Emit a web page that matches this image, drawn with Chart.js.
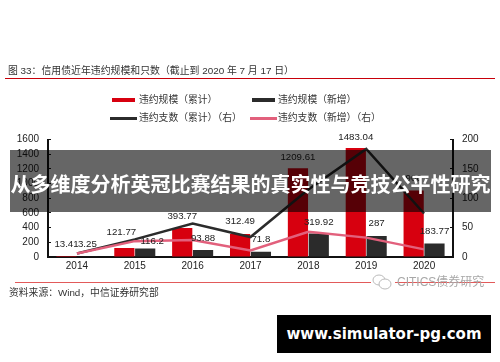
<!DOCTYPE html>
<html>
<head>
<meta charset="utf-8">
<script src="https://cdn.jsdelivr.net/npm/chart.js@4"></script>
<style>
    html, body { margin: 0; padding: 0; background: #fff; }
    #page { position: relative; width: 500px; height: 362px; overflow: hidden; font-family: "Liberation Sans", "Noto Sans CJK SC", sans-serif; color: #333; }
    #page canvas { position: absolute; left: 0; top: 0; }
    .abs { position: absolute; white-space: nowrap; }
    .rule { position: absolute; height: 1px; }
    .legend-text { font-size: 9.8px; line-height: 12px; }
    .swatch { position: absolute; }
</style>
</head>
<body>
<div id="page">
    <canvas id="chart" width="500" height="362"></canvas>
    <div class="abs" id="title" style="left:8px;top:64px;font-size:9.9px;line-height:13px">图 33：信用债近年违约规模和只数（截止到 2020 年 7 月 17 日）</div>
    <div class="rule" style="left:5px;width:490px;top:78px;background:#c8000a"></div>
    <div id="legend"></div>
    <div class="rule" style="left:15px;width:480px;top:282px;background:#e25a5a"></div>
    <div class="abs" style="left:9px;top:286px;font-size:9.8px;line-height:13px">资料来源：Wind，中信证券研究部</div>
    <svg class="abs" style="left:371px;top:274px" width="24" height="16">
        <rect x="0" y="0" width="24" height="16" fill="#fff"/>
        <ellipse cx="8" cy="6" rx="6" ry="5" fill="none" stroke="#bbb" stroke-width="1"/>
        <ellipse cx="14" cy="10" rx="6" ry="5" fill="#fff" stroke="#bbb" stroke-width="1"/>
    </svg>
    <div class="abs" style="left:397px;top:275px;font-size:12px;line-height:14px;color:#a8a8a8">CITICS债券研究</div>
    <div class="abs" style="left:10px;top:150px;width:481px;height:62px;background:rgba(0,0,0,0.6)"></div>
    <div class="abs" style="left:10px;top:150px;width:481px;height:68px;line-height:68px;text-align:center;font-family:'Noto Sans CJK SC',sans-serif;font-size:20px;font-weight:bold;color:#fff">从多维度分析英冠比赛结果的真实性与竞技公平性研究</div>
    <div class="abs" style="left:277px;top:315px;width:214px;height:38px;line-height:38px;background:#000;color:#fff;text-align:center;font-family:'DejaVu Sans',sans-serif;font-size:15px;font-weight:bold">www.simulator-pg.com</div>
</div>
<script>
// Données
const years = ['2014', '2015', '2016', '2017', '2018', '2019', '2020'];
const leftTicks = [0, 200, 400, 600, 800, 1000, 1200, 1400, 1600];
const rightTicks = [0, 50, 100, 150, 200];

const scaleTotal = [13.41, 121.77, 393.77, 312.49, 1209.61, 1483.04, 906];
const scaleNew = [3.25, 116.2, 93.88, 71.8, 319.92, 287, 183.77];
const countTotal = [6, 30, 57, 34, 115, 184, 74];
const countNew = [6, 27, 29, 11, 43, 33, 13];

const seriesNames = ['违约规模（累计）', '违约规模（新增）', '违约支数（累计）（右）', '违约支数（新增）（右）'];
const seriesColors = ['#d7000f', '#2b2b2b', '#2b2b2b', '#e2607c'];

// Légende en HTML, deux rangées comme sur l'original
const legendSlots = [
    { x: 112, w: 23, h: 4, y: 100 },
    { x: 252, w: 23, h: 4, y: 100 },
    { x: 110, w: 27, h: 3, y: 118 },
    { x: 250, w: 27, h: 3, y: 118 }
];
const legendBox = document.getElementById('legend');
seriesNames.forEach((name, i) => {
    const slot = legendSlots[i];
    const swatch = document.createElement('div');
    swatch.className = 'swatch';
    swatch.style.cssText = `left:${slot.x}px;top:${slot.y - slot.h / 2}px;width:${slot.w}px;height:${slot.h}px;background:${seriesColors[i]}`;
    legendBox.appendChild(swatch);
    const text = document.createElement('div');
    text.className = 'abs legend-text';
    text.style.cssText = `left:${i % 2 ? 278 : 139}px;top:${slot.y - 6}px`;
    text.textContent = name;
    legendBox.appendChild(text);
});

// Etiquettes de valeurs au-dessus des barres, avec le décalage de l'original
const labelLift = [
    [12, 16, 12, 13, 11, 11, 12],
    [12, 7, 12, 12, 11, 13, 12]
];
const labelShift = [
    [0, -3, 0, 0, 0, 0, 0],
    [0, 7, 0, 0, 0, 0, 0]
];
const barLabels = {
    id: 'barLabels',
    afterDatasetsDraw(chart) {
        const ctx = chart.ctx;
        ctx.save();
        ctx.font = '9.7px "Liberation Sans"';
        ctx.fillStyle = '#222';
        ctx.textAlign = 'center';
        ctx.textBaseline = 'middle';
        [0, 1].forEach(index => {
            chart.getDatasetMeta(index).data.forEach((bar, i) => {
                const text = String(chart.data.datasets[index].data[i]);
                ctx.fillText(text, bar.x + labelShift[index][i], bar.y - labelLift[index][i]);
            });
        });
        ctx.restore();
    }
};

const fixedWidth = width => scale => { scale.width = width; };
const axisFont = { family: '"Liberation Sans"', size: 10 };
const plainTick = value => String(value);

new Chart(document.getElementById('chart'), {
    type: 'bar',
    data: {
        labels: years,
        datasets: [
            { label: seriesNames[0], data: scaleTotal, backgroundColor: seriesColors[0], yAxisID: 'y', categoryPercentage: 0.72, barPercentage: 0.97, order: 2 },
            { label: seriesNames[1], data: scaleNew, backgroundColor: seriesColors[1], yAxisID: 'y', categoryPercentage: 0.72, barPercentage: 0.97, order: 2 },
            { type: 'line', label: seriesNames[2], data: countTotal, borderColor: seriesColors[2], borderWidth: 2.5, pointRadius: 0, tension: 0, yAxisID: 'y1', order: 1 },
            { type: 'line', label: seriesNames[3], data: countNew, borderColor: seriesColors[3], borderWidth: 2.5, pointRadius: 0, tension: 0, yAxisID: 'y1', order: 0 }
        ]
    },
    options: {
        responsive: false,
        animation: false,
        layout: { padding: { top: 139.5, bottom: 87 } },
        plugins: { legend: { display: false }, tooltip: { enabled: false } },
        scales: {
            x: {
                grid: { display: false, drawTicks: false },
                border: { color: '#111', width: 2 },
                ticks: { font: axisFont, color: '#222', padding: 3, maxRotation: 0 }
            },
            y: {
                position: 'left',
                min: 0,
                max: 1600,
                afterFit: fixedWidth(48),
                afterBuildTicks: scale => { scale.ticks = leftTicks.map(value => ({ value })); },
                grid: { drawOnChartArea: false, tickLength: -3, tickColor: '#111', tickWidth: 1 },
                border: { color: '#111', width: 2 },
                ticks: { font: axisFont, color: '#222', padding: 12, autoSkip: false, callback: plainTick }
            },
            y1: {
                position: 'right',
                min: 0,
                max: 200,
                afterFit: fixedWidth(47),
                afterBuildTicks: scale => { scale.ticks = rightTicks.map(value => ({ value })); },
                grid: { drawOnChartArea: false, tickLength: -3, tickColor: '#111', tickWidth: 1 },
                border: { color: '#111', width: 2 },
                ticks: { font: axisFont, color: '#222', padding: 12, autoSkip: false, callback: plainTick }
            }
        }
    },
    plugins: [barLabels]
});
</script>
</body>
</html>
